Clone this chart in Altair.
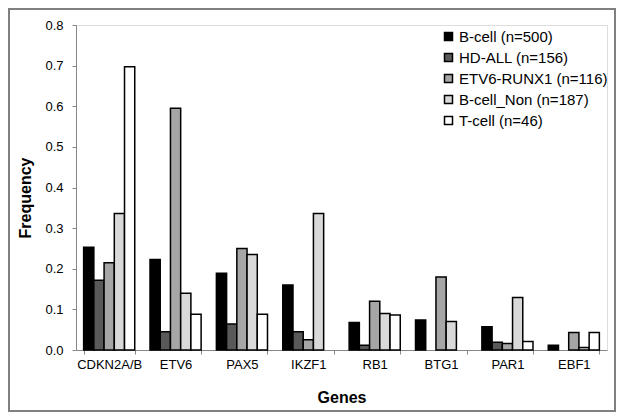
import altair as alt
import pandas as pd

genes = ["CDKN2A/B", "ETV6", "PAX5", "IKZF1", "RB1", "BTG1", "PAR1", "EBF1"]
groups = ["B-cell (n=500)", "HD-ALL (n=156)", "ETV6-RUNX1 (n=116)",
          "B-cell_Non (n=187)", "T-cell (n=46)"]
colors = ["#000000", "#595959", "#a6a6a6", "#d9d9d9", "#ffffff"]

b_cell = [0.253, 0.223, 0.189, 0.160, 0.068, 0.074, 0.057, 0.012]
hd_all = [0.172, 0.045, 0.064, 0.045, 0.012, 0.0, 0.019, 0.0]
etv6_runx1 = [0.215, 0.595, 0.250, 0.025, 0.120, 0.180, 0.016, 0.043]
b_cell_non = [0.336, 0.140, 0.235, 0.336, 0.090, 0.070, 0.129, 0.006]
t_cell = [0.697, 0.088, 0.088, 0.0, 0.086, 0.0, 0.021, 0.043]

series = [b_cell, hd_all, etv6_runx1, b_cell_non, t_cell]
rows = []
for g, vals in zip(groups, series):
    for gene, v in zip(genes, vals):
        rows.append({"gene": gene, "group": g, "value": v})
df = pd.DataFrame(rows)

FONT = "Liberation Sans"
AXIS_GRAY = "#868686"

bars = alt.Chart(df).transform_filter("datum.value > 0").mark_bar(
    stroke="#000000", strokeWidth=1.5
).encode(
    x=alt.X("gene:N", sort=genes,
            scale=alt.Scale(domain=genes, paddingInner=0.23, paddingOuter=0.115),
            axis=alt.Axis(title="Genes", labelAngle=0, tickBand="extent",
                          labelFontSize=13, labelColor="#000000", labelFont=FONT,
                          labelPadding=4, tickSize=4, domainColor=AXIS_GRAY,
                          tickColor=AXIS_GRAY, titleFont=FONT, titleFontSize=16,
                          titleFontWeight="bold", titleColor="#000000",
                          titleBaseline="middle", titleY=47.5)),
    xOffset=alt.XOffset("group:N", sort=groups,
                        scale=alt.Scale(domain=groups, paddingInner=0, paddingOuter=0)),
    y=alt.Y("value:Q", scale=alt.Scale(domain=[0, 0.8], nice=False),
            axis=alt.Axis(title="Frequency", values=[0, 0.1, 0.2, 0.3, 0.4, 0.5, 0.6, 0.7, 0.8],
                          format=".1f", grid=False, labelFontSize=13,
                          labelColor="#000000", labelFont=FONT, labelPadding=9,
                          tickSize=4, domainColor=AXIS_GRAY, tickColor=AXIS_GRAY,
                          titleFont=FONT, titleFontSize=16, titleFontWeight="bold",
                          titleColor="#000000", titleBaseline="middle",
                          titleAlign="center", titleAngle=270,
                          titleX=-51, titleY=172.5)),
    color=alt.Color("group:N", sort=groups,
                    scale=alt.Scale(domain=groups, range=colors),
                    legend=alt.Legend(title=None, orient="none", legendX=365, legendY=4,
                                      symbolType="square", symbolSize=64,
                                      symbolStrokeColor="#000000", symbolStrokeWidth=1.5,
                                      labelFont=FONT, labelFontSize=15,
                                      labelColor="#000000", labelOffset=3,
                                      rowPadding=5, padding=0)),
)

frame = alt.Chart(alt.Data(values=[{}])).mark_rect(
    filled=False, stroke="#808080", strokeWidth=2
).encode(
    x=alt.value(-67), x2=alt.value(539), y=alt.value(-16), y2=alt.value(386)
)

chart = alt.layer(bars, frame).properties(
    width=531, height=325,
    autosize=alt.AutoSizeParams(type="none"),
    padding={"left": 68, "top": 17, "right": 9, "bottom": 62},
).configure_view(stroke=None).configure(background="#ffffff")

chart.save("out.html", embed_options={"renderer": "svg", "actions": False})
